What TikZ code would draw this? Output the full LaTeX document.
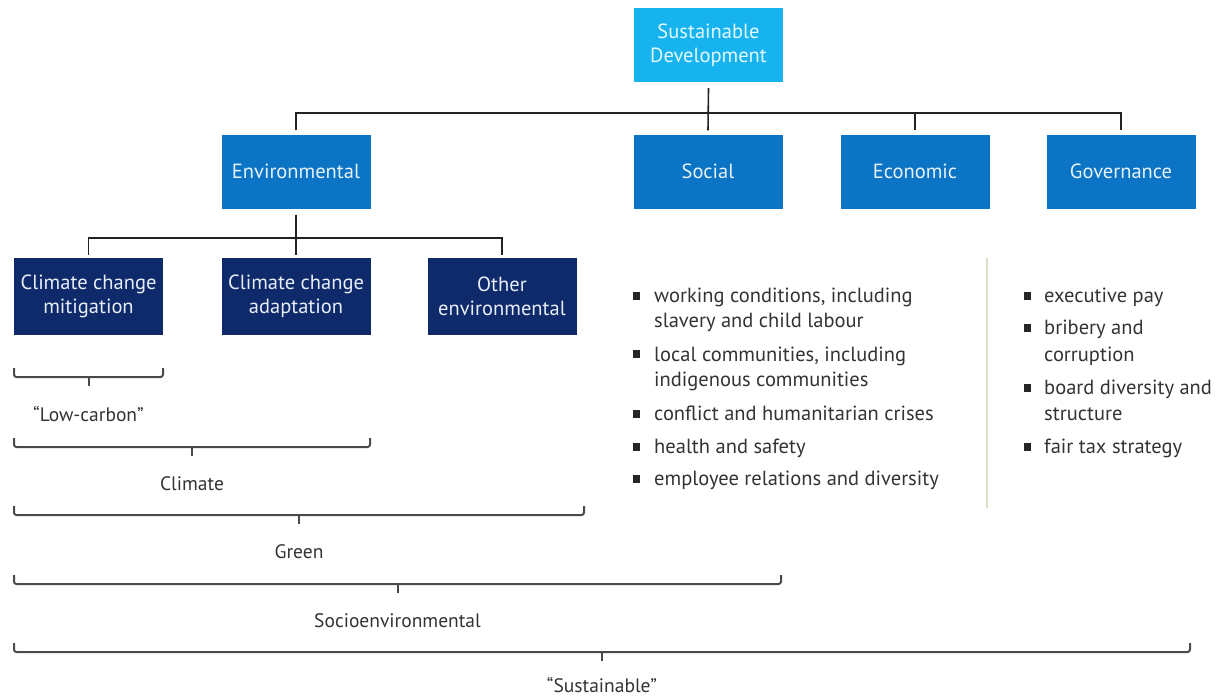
\documentclass[tikz,border=0pt]{standalone}
\usepackage{fontspec}
\setmainfont{PT Sans}
\definecolor{cSD}{HTML}{16B3EE}
\definecolor{tSD}{HTML}{E4F8FF}
\definecolor{cMid}{HTML}{0B74C4}
\definecolor{tMid}{HTML}{E6F2FC}
\definecolor{cLow}{HTML}{0F2A6A}
\definecolor{tLow}{HTML}{E8EEF8}
\definecolor{cLine}{HTML}{222222}
\definecolor{cBr}{HTML}{4A4A4A}
\definecolor{cTxt}{HTML}{333333}
\definecolor{cSep}{HTML}{DCDFC8}
\begin{document}
\begin{tikzpicture}[x=1pt,y=-1pt,
 box/.style={minimum width=149pt, minimum height=74pt, inner sep=0pt, align=center, font=\fontsize{20.5}{24}\selectfont},
 topbox/.style={box, fill=cSD, text=tSD},
 midbox/.style={box, fill=cMid, text=tMid},
 lowbox/.style={box, fill=cLow, text=tLow, minimum height=77pt},
 conn/.style={draw=cLine, line width=1.6pt},
 brace/.style={draw=cBr, line width=2pt, rounded corners=2.5pt},
 blabel/.style={text=cTxt, font=\fontsize{19.5}{22}\selectfont, inner sep=0pt},
 item/.style={anchor=base west, text=cTxt, font=\fontsize{20.5}{25}\selectfont, align=left, inner sep=0pt},
 bul/.style={fill=black!85, minimum width=7pt, minimum height=8pt, inner sep=0pt}
]
\useasboundingbox (0,0) rectangle (1229,697);
% boxes
\node[topbox] (sd) at (708.5,45) {Sustainable\\Development};
\node[midbox] (env) at (296,171.5) {Environmental};
\node[midbox] (soc) at (708,171.5) {Social};
\node[midbox] (eco) at (915,171.5) {Economic};
\node[midbox] (gov) at (1121,171.5) {Governance};
\node[lowbox] (ccm) at (88.5,296.5) {Climate change\\mitigation};
\node[lowbox] (cca) at (296,296.5) {Climate change\\adaptation};
\node[lowbox] (oth) at (502,296.5) {Other\\environmental};
% tree connectors
\coordinate (bus1) at (708,113);
\coordinate (bus2) at (296,238);
\draw[conn] ([yshift=-6pt]sd.south) -- ([yshift=4pt]soc.north);
\draw[conn] ([yshift=4pt]env.north) |- (bus1) -| ([yshift=4pt]gov.north);
\draw[conn] (bus1 -| eco.north) -- ([yshift=4pt]eco.north);
\draw[conn] ([yshift=-6pt]env.south) -- ([yshift=3pt]cca.north);
\draw[conn] ([yshift=3pt]ccm.north) |- (bus2) -| ([yshift=3pt]oth.north);
% brackets
\foreach \xa/\xb/\yy/\lab/\nm/\dy in {14/163/377/{``Low-carbon''}/lc/37, 14/370/447/Climate/cl/37, 14/584/515/Green/gr/37, 14/781/584/Socioenvironmental/se/37, 14/1190/652/{``Sustainable''}/su/33}{
  \draw[brace] (\xa,\yy-9) |- (\xb,\yy) -- (\xb,\yy-9);
  \coordinate (\nm) at ({(\xa+\xb)/2},\yy);
  \draw[brace] (\nm) -- ++(0,9);
  \node[blabel] (\nm-t) at ([yshift=-\dy pt]\nm) {\lab};
}
% separator
\draw[cSep, line width=1.5pt] (987,258) -- (987,508);
% social list (base = last line)
\foreach \yb/\yy/\txt/\nm in {302/327/{working conditions, including\\slavery and child labour}/s1, 360/386/{local communities, including\\indigenous communities}/s2, 420/420/{conflict and humanitarian crises}/s3, 453/453/{health and safety}/s4, 485/485/{employee relations and diversity}/s5}{
  \node[bul] (\nm-b) at (636,\yb-6) {};
  \node[item] (\nm) at (654,\yy) {\txt};
}
% governance list
\foreach \yb/\yy/\txt/\nm in {302/302/{executive pay}/g1, 334/361/{bribery and\\[2pt]corruption}/g2, 394/420/{board diversity and\\[1pt]structure}/g3, 453/453/{fair tax strategy}/g4}{
  \node[bul] (\nm-b) at (1027,\yb-6) {};
  \node[item] (\nm) at (1044,\yy) {\txt};
}
\end{tikzpicture}
\end{document}
